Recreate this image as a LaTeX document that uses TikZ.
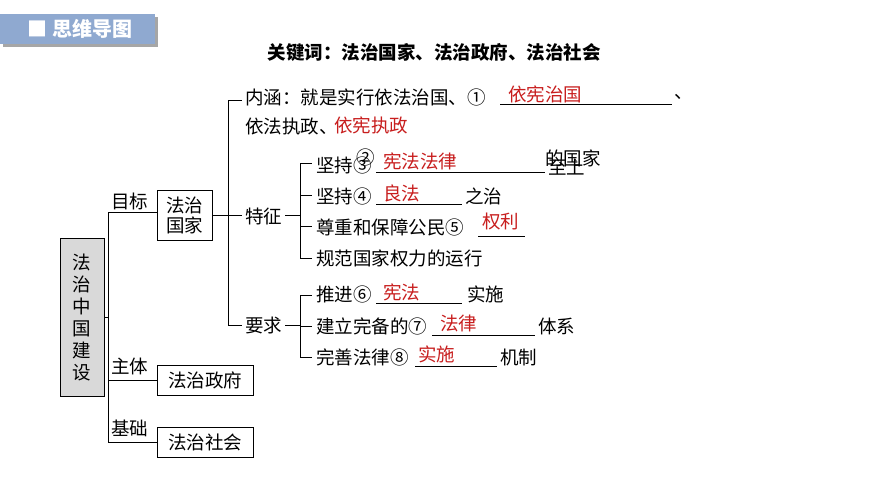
\documentclass[tikz,border=0pt]{standalone}
\usepackage{fontspec}
\setmainfont{Noto Sans CJK SC}
\usetikzlibrary{positioning}
\definecolor{hdrblue}{RGB}{143,169,208}
\definecolor{ansred}{RGB}{200,30,30}
\tikzset{
  txt/.style={anchor=west,inner sep=0pt,font=\fontsize{18.5}{20}\selectfont},
  ans/.style={txt,text=ansred},
  box/.style={draw,inner sep=0pt,font=\fontsize{18.5}{20}\selectfont},
  ul/.style={line width=0.6pt}
}
\begin{document}
\begin{tikzpicture}[x=1pt,y=-1pt,line width=0.8pt]
\useasboundingbox[fill=white] (0,0) rectangle (870,490);
% header
\fill[gray!70] (3,17) rectangle (158,47);
\fill[hdrblue] (0,14) rectangle (155,44);
\node[inner sep=0pt,text=white,font=\fontsize{20}{22}\selectfont\bfseries] (hdr) at (80,29) {■ 思维导图};
\node[inner sep=0pt,font=\fontsize{18.5}{20}\selectfont\bfseries] (kw) at (434,52) {关键词：法治国家、法治政府、法治社会};
% main boxes
\node[box,fill=gray!30,minimum width=44pt,minimum height=158pt,align=center] (china) at (82,317) {法\\[2pt]治\\[2pt]中\\[2pt]国\\[2pt]建\\[2pt]设};
\node[box,minimum width=55pt,minimum height=50pt,align=center] (state) at (184.5,215) {法治\\国家};
\node[box,minimum width=96pt,minimum height=30pt] (gov) at (205,380) {法治政府};
\node[box,minimum width=96pt,minimum height=30pt] (soc) at (205,442) {法治社会};
\coordinate (t1) at (108,212);
\coordinate (t2) at (108,442);
\draw (china.east) -- (108,317);
\draw (t1) -- (t2);
\draw (t1) -- (state.west |- t1);
\draw (108,380) -- (gov.west);
\draw (t2) -- (soc.west);
\node[txt] (goal) at (111,201) {目标};
\node[txt] (subj) at (111,366) {主体};
\node[txt] (base) at (111,428) {基础};
% second level
\coordinate (s1) at (228,100);
\coordinate (s2) at (228,325);
\draw (state.east) -- (228,215);
\draw (s1) -- (s2);
\draw (s1) -- (242,100);
\draw (228,215) -- (242,215);
\draw (228,325) -- (242,325);
\node[txt] (mean) at (245,97) {内涵：就是实行依法治国、①};
\node[ans] (a1) at (508,94) {依宪治国};
\draw[ul] (500,104) -- (672,104);
\node[txt] (dun) at (674,97) {、};
\node[txt] (mean2) at (245,126) {依法执政、};
\node[ans] (a1b) at (334,125) {依宪执政};
\node[txt] (feat) at (245,216) {特征};
\node[txt] (req) at (245,326) {要求};
% features
\draw (285,215) -- (300,215);
\draw (300,163) -- (300,258);
\foreach \y in {163,195,226,258} \draw (300,\y) -- (312,\y);
\node[txt] (f1) at (316,165) {坚持③};
\node[txt] (f1b) at (356,157) {②};
\node[ans] (a3) at (383,161) {宪法法律};
\draw[ul] (376,172) -- (545,172);
\node[txt] (f1c) at (548,167) {至上};
\node[txt] (f1d) at (545,158) {的国家};
\node[txt] (f2) at (316,196) {坚持④};
\node[ans] (a4) at (383,193) {良法};
\draw[ul] (376,204) -- (462,204);
\node[txt] (f2c) at (465,196) {之治};
\node[txt] (f3) at (316,227) {尊重和保障公民⑤};
\node[ans] (a5) at (482,222) {权利};
\draw[ul] (478,236) -- (525,236);
\node[txt] (f4) at (316,258) {规范国家权力的运行};
% requirements
\draw (285,325) -- (300,325);
\draw (300,295) -- (300,357);
\foreach \y in {295,326,357} \draw (300,\y) -- (312,\y);
\node[txt] (r1) at (316,294) {推进⑥};
\node[ans] (a6) at (383,292) {宪法};
\draw[ul] (376,303) -- (462,303);
\node[txt] (r1c) at (467,294) {实施};
\node[txt] (r2) at (316,326) {建立完备的⑦};
\node[ans] (a7) at (440,323) {法律};
\draw[ul] (432,335) -- (535,335);
\node[txt] (r2c) at (538,326) {体系};
\node[txt] (r3) at (316,357) {完善法律⑧};
\node[ans] (a8) at (418,354) {实施};
\draw[ul] (415,366) -- (497,366);
\node[txt] (r3c) at (500,357) {机制};
\end{tikzpicture}
\end{document}
